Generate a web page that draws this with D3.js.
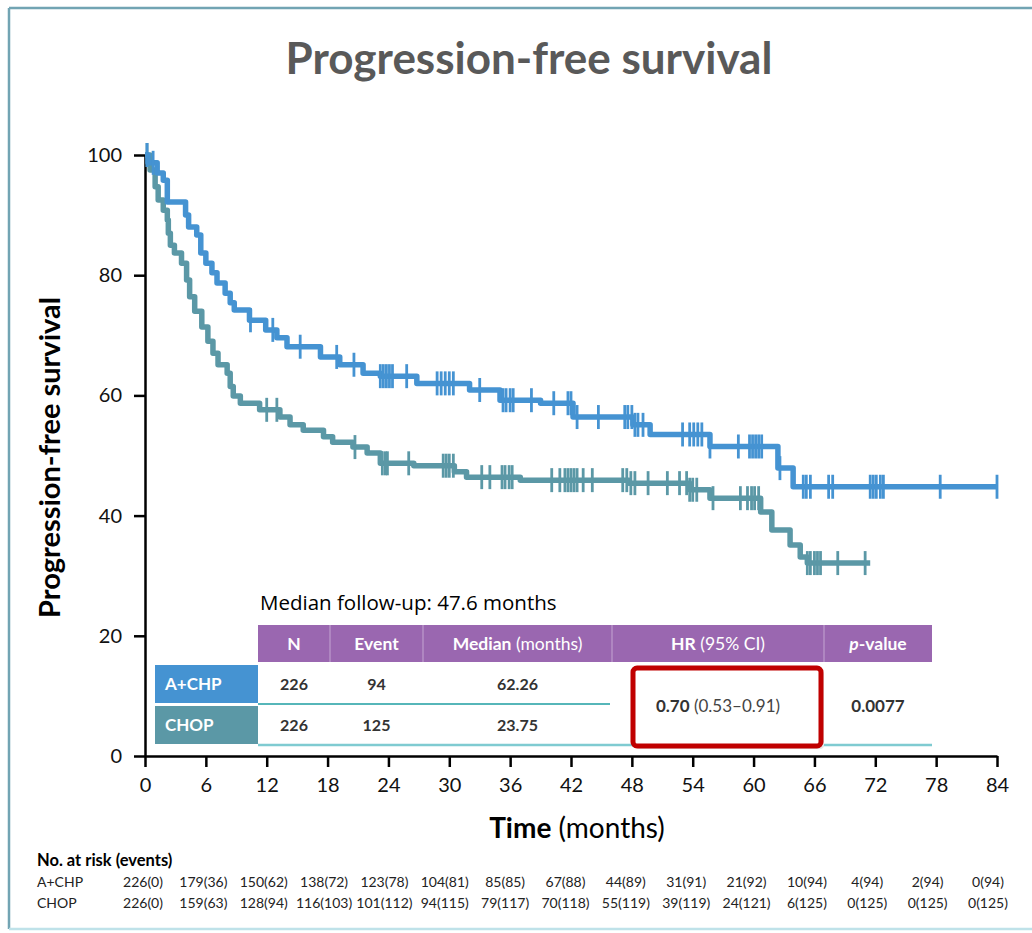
<!DOCTYPE html>
<html>
<head>
<meta charset="utf-8">
<script src="https://cdnjs.cloudflare.com/ajax/libs/d3/7.8.5/d3.min.js"></script>
<style>
  html, body { margin: 0; padding: 0; background: #fff; }
  svg { display: block; font-family: Lato, "Open Sans", sans-serif; }
</style>
</head>
<body>
<svg id="chart" width="1032" height="933"></svg>
<script>
// axis ticks
const timeTicks = [0, 6, 12, 18, 24, 30, 36, 42, 48, 54, 60, 66, 72, 78, 84];
const survTicks = [0, 20, 40, 60, 80, 100];

// A+CHP step curve (time in months, % progression-free)
const achpTimes = [0, 0.3, 1.2, 1.8, 2.2, 4.0, 4.3, 5.1, 5.5, 6.0, 6.6, 7.1, 7.9, 8.4, 8.8, 10.3, 11.9, 13.0, 14.0, 17.3,
  19.2, 21.5, 23.2, 26.8, 32.0, 35.0, 39.0, 42.2, 48.1, 49.8, 55.7, 62.4, 63.9, 84];
const achpSurv = [100, 98.7, 97, 95.8, 92.2, 90, 88, 86.7, 83.7, 82, 80.4, 78.7, 77, 75.4, 74.2, 72.5, 70.9, 69.6, 68.1, 66.4,
  65.1, 63.7, 63.2, 62.0, 60.9, 59.2, 58.7, 56.4, 55.1, 53.5, 51.5, 47.9, 44.8, 44.8];
const achpCensor = [0.2, 0.8, 10.4, 12.6, 15.3, 18.9, 20.6, 23.2, 23.5, 23.8, 24.1, 24.4, 25.8, 28.8, 29.2, 29.6, 30.0, 30.4,
  33.0, 35.3, 35.6, 36.0, 36.3, 38.1, 40.3, 41.7, 42.0, 42.6, 44.7, 47.3, 47.6, 48.0, 48.3, 48.6, 49.1, 53.0, 53.7, 54.1,
  54.5, 54.9, 55.7, 58.5, 59.6, 59.9, 60.2, 60.5, 60.8, 62.6, 64.9, 65.2, 65.6, 67.4, 67.8, 71.5, 71.8, 72.1, 72.5, 72.8,
  78.4, 84];

// CHOP step curve
const chopTimes = [0, 0.5, 1.0, 1.3, 1.8, 2.2, 2.3, 2.5, 2.9, 3.6, 4.1, 4.4, 4.9, 5.6, 6.2, 6.7, 7.2, 8.1, 8.4, 8.7,
  9.4, 11.3, 13.3, 14.3, 15.6, 17.6, 18.5, 20.5, 21.9, 23.2, 26.5, 30.5, 31.7, 37.0, 47.7, 53.7, 55.7, 60.7, 61.8, 63.6,
  64.6, 65.3, 71.5];
const chopSurv = [100, 97.5, 94.7, 92.5, 90.8, 89.2, 87, 85, 83.7, 82, 79.2, 76.4, 74, 71.4, 69, 67, 65.1, 63.7, 61.5, 59.9,
  58.7, 57.6, 56.4, 55.1, 54.2, 53.1, 52.2, 51.4, 50.4, 48.7, 48.3, 47.3, 46.4, 45.9, 45.4, 44.3, 42.9, 40.6, 37.6, 35.1,
  33.1, 32.1, 32.1];
const chopCensor = [0.2, 12.0, 13.0, 20.7, 23.4, 23.7, 23.9, 26.0, 29.4, 29.7, 30.0, 30.4, 33.2, 34.0, 35.2, 35.5, 35.9, 36.2,
  40.1, 40.9, 41.4, 41.7, 42.0, 42.3, 42.6, 43.2, 44.1, 47.1, 47.5, 47.9, 48.3, 49.6, 51.5, 52.7, 53.4, 53.7, 54.0, 54.4,
  56.0, 58.7, 59.4, 59.8, 60.1, 60.5, 65.3, 65.6, 66.0, 66.3, 66.6, 68.3, 71.0];

// summary table
const tableHeaders = ["N", "Event", "Median", "HR", "p"];
const tableHeaderSuffix = ["", "", " (months)", " (95% CI)", "-value"];
const armNames = ["A+CHP", "CHOP"];
const armN = ["226", "226"];
const armEvents = ["94", "125"];
const armMedians = ["62.26", "23.75"];
const hrValue = "0.70";
const hrCI = " (0.53–0.91)";
const pValue = "0.0077";

// numbers at risk (events)
const riskAchp = ["226(0)", "179(36)", "150(62)", "138(72)", "123(78)", "104(81)", "85(85)", "67(88)", "44(89)",
  "31(91)", "21(92)", "10(94)", "4(94)", "2(94)", "0(94)"];
const riskChop = ["226(0)", "159(63)", "128(94)", "116(103)", "101(112)", "94(115)", "79(117)", "70(118)", "55(119)",
  "39(119)", "24(121)", "6(125)", "0(125)", "0(125)", "0(125)"];

const colAchp = "#4593d2";
const colChop = "#5b98a6";

const svg = d3.select("#chart");

// frame
svg.append("line").attr("x1", 9).attr("x2", 1032).attr("y1", 8).attr("y2", 8)
  .attr("stroke", "#72a4b3").attr("stroke-width", 2.5);
svg.append("line").attr("x1", 9).attr("x2", 9).attr("y1", 8).attr("y2", 929)
  .attr("stroke", "#72a4b3").attr("stroke-width", 2.5);
svg.append("line").attr("x1", 9).attr("x2", 1032).attr("y1", 929).attr("y2", 929)
  .attr("stroke", "#bfe2e9").attr("stroke-width", 2.5);

svg.append("text")
  .attr("x", 529).attr("y", 74)
  .attr("text-anchor", "middle")
  .attr("font-size", 44).attr("font-weight", 700)
  .attr("fill", "#595959")
  .text("Progression-free survival");

const x = d3.scaleLinear().domain([0, 84]).range([145, 997]);
const y = d3.scaleLinear().domain([0, 100]).range([756, 155]);

// axes
const xAxis = svg.append("g")
  .attr("transform", `translate(0,${y(0)})`)
  .call(d3.axisBottom(x).tickValues(timeTicks).tickSize(11).tickPadding(11).tickSizeOuter(0));
const yAxis = svg.append("g")
  .attr("transform", `translate(${x(0)},0)`)
  .call(d3.axisLeft(y).tickValues(survTicks).tickSize(11).tickPadding(12).tickSizeOuter(0));

[xAxis, yAxis].forEach(ax => {
  ax.select(".domain").attr("stroke", "#000").attr("stroke-width", 2.5);
  ax.selectAll(".tick line").attr("stroke", "#000").attr("stroke-width", 2.5);
  ax.selectAll(".tick text").attr("font-family", "Lato, sans-serif").attr("font-size", 20).attr("fill", "#111");
});

svg.append("text")
  .attr("transform", `translate(60,${y(50) + 2}) rotate(-90)`)
  .attr("text-anchor", "middle")
  .attr("font-size", 29).attr("font-weight", 700)
  .text("Progression-free survival");

const xTitle = svg.append("text")
  .attr("x", 577).attr("y", 838)
  .attr("text-anchor", "middle")
  .attr("font-size", 28);
xTitle.append("tspan").attr("font-weight", 700).text("Time");
xTitle.append("tspan").text(" (months)");

// curves
const line = d3.line()
  .x(d => x(d[0]))
  .y(d => y(d[1]))
  .curve(d3.curveStepAfter);

function survAt(times, surv, t) {
  const i = d3.bisectRight(times, t) - 1;
  return surv[Math.max(0, i)];
}

function drawArm(times, surv, censor, color) {
  const pts = times.map((t, i) => [t, surv[i]]);
  svg.append("path")
    .datum(pts)
    .attr("d", line)
    .attr("fill", "none")
    .attr("stroke", color)
    .attr("stroke-width", 5.5)
    .attr("stroke-linejoin", "round");
  svg.append("g").selectAll("line")
    .data(censor)
    .enter()
    .append("line")
    .attr("x1", d => x(d)).attr("x2", d => x(d))
    .attr("y1", d => y(survAt(times, surv, d)) - 12)
    .attr("y2", d => y(survAt(times, surv, d)) + 12)
    .attr("stroke", color)
    .attr("stroke-width", 2.8);
}

drawArm(chopTimes, chopSurv, chopCensor, colChop);
drawArm(achpTimes, achpSurv, achpCensor, colAchp);

// summary table
svg.append("text")
  .attr("x", 260).attr("y", 610)
  .attr("font-family", "'Open Sans', sans-serif")
  .attr("font-size", 20.5)
  .text("Median follow-up: 47.6 months");

const colEdges = [258, 330, 423, 612, 824, 932];
svg.append("rect")
  .attr("x", colEdges[0]).attr("y", 625)
  .attr("width", colEdges[5] - colEdges[0]).attr("height", 37)
  .attr("fill", "#9a67b0");
colEdges.slice(1, 5).forEach(cx => {
  svg.append("line").attr("x1", cx).attr("x2", cx).attr("y1", 625).attr("y2", 662)
    .attr("stroke", "#c4a6d2").attr("stroke-width", 1);
});
const colMid = colEdges.slice(0, 5).map((c, i) => (c + colEdges[i + 1]) / 2);

tableHeaders.forEach((h, i) => {
  const t = svg.append("text")
    .attr("x", colMid[i]).attr("y", 650)
    .attr("text-anchor", "middle")
    .attr("font-size", 17.5)
    .attr("fill", "#fff");
  t.append("tspan").attr("font-weight", 700).attr("font-style", h === "p" ? "italic" : null).text(h);
  t.append("tspan").attr("font-weight", h === "p" ? 700 : 400).text(tableHeaderSuffix[i]);
});

const rowTop = [665, 706];
const rowColors = [colAchp, colChop];
armNames.forEach((name, i) => {
  svg.append("rect")
    .attr("x", 155).attr("y", rowTop[i])
    .attr("width", 103).attr("height", 38)
    .attr("fill", rowColors[i]);
  svg.append("text")
    .attr("x", 165).attr("y", rowTop[i] + 25)
    .attr("font-size", 17).attr("font-weight", 700)
    .attr("fill", "#fff")
    .text(name);
  [armN[i], armEvents[i], armMedians[i]].forEach((v, j) => {
    svg.append("text")
      .attr("x", colMid[j]).attr("y", rowTop[i] + 25)
      .attr("text-anchor", "middle")
      .attr("font-size", 16).attr("font-weight", 700)
      .attr("fill", "#333")
      .text(v);
  });
});

svg.append("line").attr("x1", 258).attr("x2", 610).attr("y1", 704).attr("y2", 704)
  .attr("stroke", "#56b6b9").attr("stroke-width", 2);
svg.append("line").attr("x1", 258).attr("x2", 932).attr("y1", 745).attr("y2", 745)
  .attr("stroke", "#7fcbd1").attr("stroke-width", 2.5);

// highlighted HR cell
svg.append("rect")
  .attr("x", 636).attr("y", 671)
  .attr("width", 188).attr("height", 78).attr("rx", 4)
  .attr("fill", "#e6e6e6");
svg.append("rect")
  .attr("x", 633).attr("y", 668)
  .attr("width", 188).attr("height", 78).attr("rx", 4)
  .attr("fill", "#fff")
  .attr("stroke", "#c00000").attr("stroke-width", 5);

const hr = svg.append("text")
  .attr("x", colMid[3]).attr("y", 712)
  .attr("text-anchor", "middle")
  .attr("font-size", 17)
  .attr("fill", "#333");
hr.append("tspan").attr("font-weight", 700).text(hrValue);
hr.append("tspan").attr("fill", "#444").text(hrCI);

svg.append("text")
  .attr("x", colMid[4]).attr("y", 712)
  .attr("text-anchor", "middle")
  .attr("font-size", 17).attr("font-weight", 700)
  .attr("fill", "#333")
  .text(pValue);

// numbers at risk
const xr = d3.scaleLinear().domain([0, 84]).range([143, 988]);
svg.append("text")
  .attr("x", 37).attr("y", 866)
  .attr("font-size", 16.5).attr("font-weight", 700)
  .text("No. at risk (events)");

[["A+CHP", riskAchp, 887], ["CHOP", riskChop, 908]].forEach(([name, vals, yy]) => {
  svg.append("text")
    .attr("x", 37).attr("y", yy)
    .attr("font-size", 14)
    .attr("fill", "#222")
    .text(name);
  svg.append("g").selectAll("text")
    .data(vals)
    .enter()
    .append("text")
    .attr("x", (d, i) => xr(timeTicks[i]))
    .attr("y", yy)
    .attr("text-anchor", "middle")
    .attr("font-size", 14)
    .attr("fill", "#222")
    .text(d => d);
});
</script>
</body>
</html>
